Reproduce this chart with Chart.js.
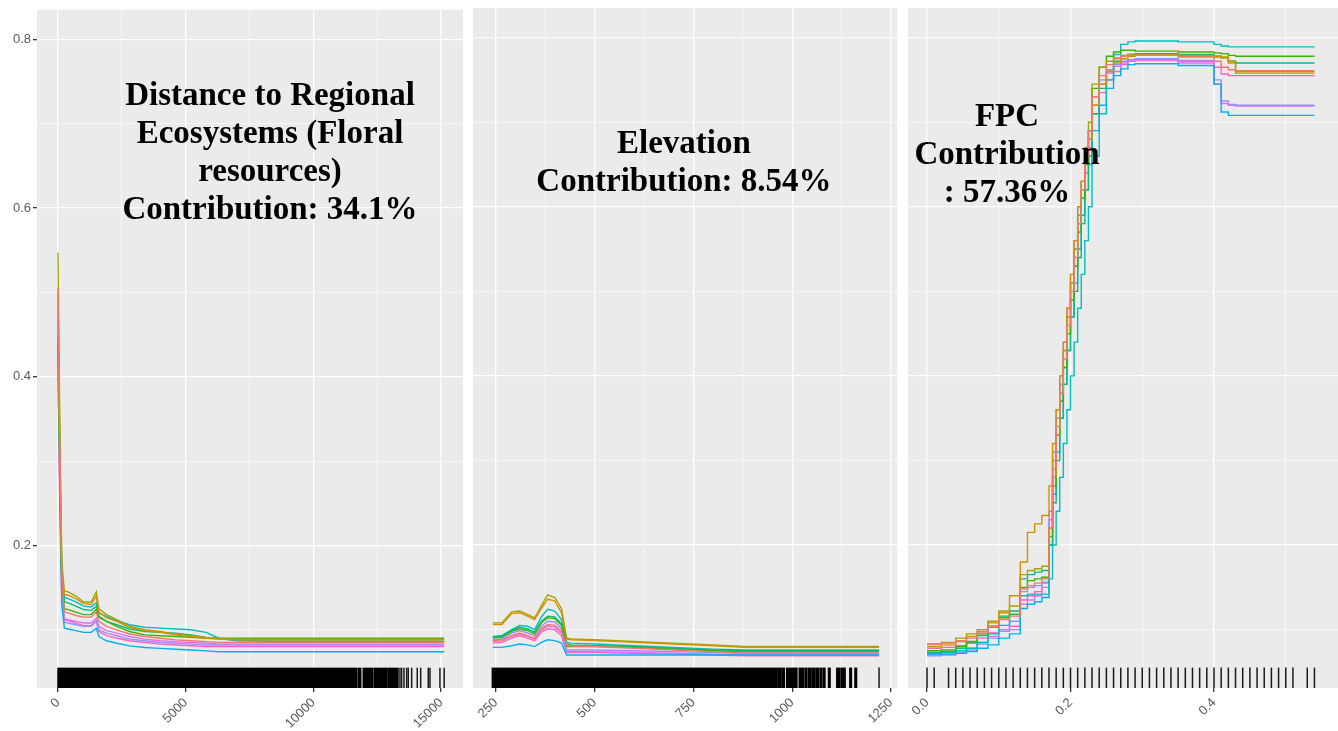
<!DOCTYPE html>
<html>
<head>
<meta charset="utf-8">
<script src="https://cdn.jsdelivr.net/npm/chart.js@4.4.1/dist/chart.umd.min.js"></script>
<style>
  html, body { margin: 0; padding: 0; background: #fff; overflow: hidden; }
  body { width: 1338px; height: 731px; position: relative; }
  .panel { position: absolute; top: 0; height: 731px; }
</style>
</head>
<body>
<div class="panel" style="left:0;width:465px"><canvas id="plot1"></canvas></div>
<div class="panel" style="left:465px;width:440px"><canvas id="plot2"></canvas></div>
<div class="panel" style="left:905px;width:436px"><canvas id="plot3"></canvas></div>
<script>
// one colour per model replicate (ggplot hue palette)
const replicateColors = ['#F8766D', '#D89000', '#A3A500', '#39B600', '#00BF7D', '#00BFC4', '#00B0F6', '#9590FF', '#E76BF3', '#FF62BC'];

// shared y axis
const yGrid = [0.1, 0.2, 0.3, 0.4, 0.5, 0.6, 0.7, 0.8];
const yLabels = [0.2, 0.4, 0.6, 0.8];

// panel 1: distance to regional ecosystems
const distX = [0, 50, 100, 150, 250, 400, 700, 1000, 1300, 1500, 1600, 1900, 2300, 2800, 3400, 4000, 4600, 5200, 5800, 6300, 7000, 9000, 12000, 15120];
const distCurves = [
  [0.505, 0.36, 0.25, 0.16, 0.121, 0.120, 0.117, 0.115, 0.115, 0.121, 0.110, 0.104, 0.100, 0.095, 0.092, 0.090, 0.088, 0.087, 0.086, 0.085, 0.085, 0.085, 0.085, 0.085],
  [0.50, 0.37, 0.26, 0.17, 0.142, 0.141, 0.137, 0.131, 0.130, 0.140, 0.121, 0.114, 0.110, 0.103, 0.099, 0.097, 0.094, 0.092, 0.090, 0.089, 0.088, 0.088, 0.088, 0.088],
  [0.547, 0.40, 0.28, 0.18, 0.146, 0.145, 0.140, 0.133, 0.133, 0.145, 0.125, 0.118, 0.112, 0.104, 0.100, 0.098, 0.095, 0.093, 0.091, 0.090, 0.089, 0.089, 0.089, 0.089],
  [0.44, 0.33, 0.23, 0.155, 0.125, 0.124, 0.121, 0.118, 0.118, 0.124, 0.115, 0.110, 0.104, 0.098, 0.094, 0.093, 0.092, 0.091, 0.090, 0.090, 0.090, 0.090, 0.090, 0.090],
  [0.45, 0.34, 0.24, 0.16, 0.133, 0.132, 0.128, 0.124, 0.123, 0.128, 0.116, 0.110, 0.106, 0.101, 0.098, 0.097, 0.096, 0.094, 0.091, 0.089, 0.088, 0.088, 0.088, 0.088],
  [0.47, 0.35, 0.25, 0.165, 0.138, 0.137, 0.133, 0.128, 0.127, 0.132, 0.120, 0.116, 0.111, 0.106, 0.103, 0.102, 0.101, 0.100, 0.097, 0.090, 0.087, 0.086, 0.086, 0.086],
  [0.48, 0.34, 0.22, 0.13, 0.102, 0.101, 0.099, 0.097, 0.097, 0.102, 0.092, 0.087, 0.084, 0.081, 0.079, 0.078, 0.077, 0.076, 0.075, 0.074, 0.074, 0.074, 0.074, 0.074],
  [0.43, 0.31, 0.21, 0.14, 0.109, 0.108, 0.106, 0.104, 0.104, 0.110, 0.100, 0.096, 0.093, 0.089, 0.087, 0.085, 0.084, 0.083, 0.082, 0.082, 0.082, 0.082, 0.082, 0.082],
  [0.42, 0.30, 0.22, 0.15, 0.113, 0.112, 0.110, 0.108, 0.108, 0.114, 0.104, 0.099, 0.096, 0.092, 0.089, 0.087, 0.086, 0.085, 0.084, 0.083, 0.083, 0.083, 0.083, 0.083],
  [0.40, 0.29, 0.20, 0.135, 0.112, 0.111, 0.108, 0.105, 0.105, 0.111, 0.098, 0.093, 0.090, 0.087, 0.085, 0.083, 0.082, 0.081, 0.080, 0.080, 0.080, 0.080, 0.080, 0.080]
];
const distGrid = [0, 2500, 5000, 7500, 10000, 12500, 15000];
const distLabels = [0, 5000, 10000, 15000];
const distRugBands = [[0, 11694], [11757, 11851], [11953, 12321], [12383, 12868], [12920, 13311]];
const distRugTicks = [13389, 13455, 13546, 13651, 13714, 13847, 14066, 14200, 14497, 14564, 14955, 15120];
const distText = ['Distance to Regional', 'Ecosystems (Floral', 'resources)', 'Contribution: 34.1%'];

// panel 2: elevation
const elevX = [242, 265, 290, 310, 330, 348, 365, 381, 399, 416, 429, 440, 500, 600, 700, 800, 880, 1000, 1220];
const elevCurves = [
  [0.086, 0.087, 0.093, 0.096, 0.093, 0.090, 0.101, 0.106, 0.105, 0.098, 0.082, 0.081, 0.080, 0.078, 0.076, 0.074, 0.072, 0.072, 0.072],
  [0.106, 0.106, 0.119, 0.120, 0.116, 0.112, 0.125, 0.136, 0.134, 0.120, 0.089, 0.088, 0.087, 0.085, 0.083, 0.081, 0.079, 0.079, 0.079],
  [0.108, 0.108, 0.121, 0.122, 0.118, 0.114, 0.128, 0.141, 0.138, 0.125, 0.090, 0.089, 0.088, 0.086, 0.084, 0.082, 0.080, 0.080, 0.080],
  [0.090, 0.091, 0.098, 0.101, 0.099, 0.095, 0.108, 0.114, 0.113, 0.105, 0.080, 0.080, 0.080, 0.079, 0.077, 0.075, 0.074, 0.074, 0.074],
  [0.091, 0.092, 0.099, 0.103, 0.101, 0.097, 0.110, 0.116, 0.115, 0.107, 0.083, 0.082, 0.081, 0.080, 0.078, 0.076, 0.075, 0.075, 0.075],
  [0.092, 0.093, 0.100, 0.105, 0.104, 0.100, 0.115, 0.124, 0.122, 0.112, 0.085, 0.084, 0.083, 0.081, 0.079, 0.077, 0.076, 0.076, 0.076],
  [0.079, 0.079, 0.081, 0.083, 0.082, 0.080, 0.085, 0.088, 0.087, 0.084, 0.070, 0.070, 0.070, 0.070, 0.070, 0.070, 0.070, 0.070, 0.070],
  [0.088, 0.089, 0.096, 0.099, 0.096, 0.093, 0.104, 0.110, 0.109, 0.101, 0.076, 0.076, 0.076, 0.075, 0.074, 0.073, 0.072, 0.072, 0.072],
  [0.087, 0.088, 0.092, 0.095, 0.092, 0.089, 0.099, 0.104, 0.103, 0.096, 0.074, 0.074, 0.074, 0.073, 0.072, 0.071, 0.070, 0.070, 0.070],
  [0.084, 0.085, 0.090, 0.093, 0.090, 0.087, 0.097, 0.101, 0.100, 0.093, 0.073, 0.073, 0.073, 0.072, 0.071, 0.070, 0.069, 0.069, 0.069]
];
const elevGrid = [250, 375, 500, 625, 750, 875, 1000, 1125, 1250];
const elevLabels = [250, 500, 750, 1000, 1250];
const elevRugBands = [[241, 953], [956, 961], [964, 970], [974, 980], [986, 1012], [1018, 1029], [1033, 1037], [1041, 1046], [1050, 1058], [1062, 1067], [1071, 1075], [1079, 1083], [1092, 1096], [1113, 1121], [1125, 1134], [1146, 1150], [1159, 1163]];
const elevRugTicks = [1220];
const elevText = ['Elevation', 'Contribution: 8.54%'];

// panel 3: FPC
const fpcX = [0, 0.02, 0.04, 0.055, 0.07, 0.085, 0.10, 0.115, 0.13, 0.14, 0.15, 0.16, 0.17, 0.175, 0.18, 0.185, 0.19, 0.195, 0.20, 0.205, 0.21, 0.215, 0.22, 0.225, 0.23, 0.24, 0.25, 0.26, 0.27, 0.28, 0.29, 0.30, 0.35, 0.40, 0.41, 0.42, 0.43, 0.44, 0.54];
const fpcCurves = [
  [0.083, 0.083, 0.084, 0.087, 0.090, 0.096, 0.104, 0.112, 0.116, 0.148, 0.152, 0.155, 0.160, 0.22, 0.29, 0.34, 0.38, 0.42, 0.46, 0.50, 0.54, 0.58, 0.62, 0.66, 0.69, 0.73, 0.755, 0.768, 0.775, 0.778, 0.779, 0.779, 0.779, 0.777, 0.772, 0.765, 0.762, 0.761, 0.761],
  [0.080, 0.080, 0.082, 0.086, 0.092, 0.098, 0.108, 0.120, 0.140, 0.180, 0.215, 0.225, 0.235, 0.27, 0.32, 0.36, 0.40, 0.44, 0.48, 0.52, 0.56, 0.60, 0.63, 0.66, 0.68, 0.72, 0.745, 0.76, 0.77, 0.775, 0.778, 0.779, 0.779, 0.778, 0.777, 0.776, 0.770, 0.758, 0.758],
  [0.083, 0.083, 0.085, 0.090, 0.095, 0.100, 0.110, 0.122, 0.128, 0.165, 0.170, 0.172, 0.175, 0.22, 0.28, 0.33, 0.38, 0.43, 0.47, 0.51, 0.55, 0.59, 0.63, 0.67, 0.70, 0.745, 0.765, 0.772, 0.776, 0.779, 0.780, 0.780, 0.780, 0.779, 0.778, 0.777, 0.772, 0.760, 0.760],
  [0.075, 0.075, 0.076, 0.080, 0.086, 0.095, 0.103, 0.114, 0.118, 0.150, 0.158, 0.160, 0.162, 0.21, 0.27, 0.33, 0.37, 0.41, 0.45, 0.49, 0.53, 0.57, 0.61, 0.65, 0.69, 0.74, 0.765, 0.778, 0.783, 0.785, 0.785, 0.784, 0.784, 0.783, 0.782, 0.781, 0.779, 0.778, 0.778],
  [0.073, 0.073, 0.074, 0.078, 0.084, 0.093, 0.104, 0.116, 0.122, 0.160, 0.165, 0.168, 0.170, 0.20, 0.25, 0.30, 0.35, 0.39, 0.43, 0.47, 0.50, 0.54, 0.58, 0.62, 0.66, 0.71, 0.74, 0.76, 0.772, 0.778, 0.780, 0.781, 0.781, 0.780, 0.778, 0.776, 0.772, 0.770, 0.770],
  [0.072, 0.072, 0.073, 0.075, 0.078, 0.085, 0.095, 0.105, 0.118, 0.140, 0.142, 0.142, 0.142, 0.160, 0.20, 0.24, 0.28, 0.32, 0.36, 0.40, 0.44, 0.48, 0.52, 0.56, 0.60, 0.66, 0.71, 0.75, 0.78, 0.792, 0.795, 0.796, 0.796, 0.795, 0.792, 0.790, 0.789, 0.789, 0.789],
  [0.071, 0.071, 0.071, 0.072, 0.074, 0.078, 0.082, 0.090, 0.095, 0.125, 0.130, 0.133, 0.138, 0.20, 0.26, 0.31, 0.35, 0.39, 0.43, 0.47, 0.51, 0.55, 0.59, 0.62, 0.65, 0.69, 0.72, 0.74, 0.755, 0.763, 0.768, 0.769, 0.769, 0.767, 0.745, 0.712, 0.708, 0.708, 0.708],
  [0.069, 0.069, 0.070, 0.072, 0.076, 0.083, 0.090, 0.100, 0.110, 0.145, 0.150, 0.152, 0.156, 0.24, 0.31, 0.36, 0.40, 0.44, 0.48, 0.52, 0.56, 0.60, 0.63, 0.66, 0.69, 0.73, 0.75, 0.762, 0.768, 0.772, 0.774, 0.775, 0.775, 0.772, 0.750, 0.725, 0.721, 0.720, 0.720],
  [0.070, 0.070, 0.071, 0.073, 0.078, 0.085, 0.092, 0.098, 0.100, 0.130, 0.135, 0.140, 0.150, 0.23, 0.30, 0.35, 0.39, 0.43, 0.47, 0.51, 0.55, 0.58, 0.62, 0.65, 0.68, 0.72, 0.745, 0.758, 0.766, 0.770, 0.772, 0.773, 0.773, 0.770, 0.745, 0.722, 0.720, 0.719, 0.719],
  [0.078, 0.078, 0.079, 0.081, 0.085, 0.090, 0.096, 0.100, 0.104, 0.135, 0.140, 0.145, 0.155, 0.22, 0.28, 0.33, 0.37, 0.41, 0.45, 0.49, 0.53, 0.57, 0.61, 0.64, 0.67, 0.71, 0.735, 0.75, 0.76, 0.768, 0.772, 0.774, 0.774, 0.773, 0.765, 0.757, 0.755, 0.755, 0.755]
];
const fpcGrid = [0, 0.1, 0.2, 0.3, 0.4, 0.5];
const fpcLabels = [0, 0.2, 0.4];
const fpcRugTicks = [0, 0.01, 0.03, 0.04, 0.05, 0.06, 0.07, 0.08, 0.09, 0.10, 0.11, 0.12, 0.13, 0.14, 0.15, 0.16, 0.17, 0.18, 0.19, 0.20,
  0.21, 0.22, 0.23, 0.24, 0.25, 0.26, 0.27, 0.28, 0.29, 0.30, 0.31, 0.32, 0.33, 0.34, 0.35, 0.36, 0.37, 0.38, 0.39, 0.40,
  0.41, 0.42, 0.43, 0.44, 0.45, 0.46, 0.47, 0.48, 0.49, 0.50, 0.51, 0.53, 0.54];
const fpcText = ['FPC', 'Contribution', ': 57.36%'];

const Y_MIN = 0.031, Y_MAX = 0.835;
const axisFont = {family: '"Liberation Sans", Arial, sans-serif', size: 13};

function hasLabel(v, list) {
    return list.some(m => Math.abs(m - v) < 1e-9);
}

function panelBackground() {
    return {
        id: 'panelBackground',
        beforeDraw(chart) {
            const a = chart.chartArea, ctx = chart.ctx;
            ctx.save();
            ctx.fillStyle = '#EBEBEB';
            ctx.fillRect(a.left, a.top, a.right - a.left, a.bottom - a.top);
            ctx.restore();
        }
    };
}

// rug marks along the bottom of the panel + the bold contribution text
function rugAndText(bands, ticks, text, anchorX, anchorY) {
    return {
        id: 'rugAndText',
        afterDatasetsDraw(chart) {
            const a = chart.chartArea, ctx = chart.ctx, x = chart.scales.x, y = chart.scales.y;
            const len = (a.bottom - a.top) * 0.03;
            ctx.save();
            ctx.fillStyle = '#000';
            bands.forEach(b => {
                const x0 = x.getPixelForValue(b[0]), x1 = x.getPixelForValue(b[1]);
                ctx.fillRect(x0 - 0.75, a.bottom - len, x1 - x0 + 1.5, len);
            });
            ctx.strokeStyle = '#1a1a1a';
            ctx.lineWidth = 1.5;
            ticks.forEach(v => {
                const px = x.getPixelForValue(v);
                ctx.beginPath();
                ctx.moveTo(px, a.bottom - len);
                ctx.lineTo(px, a.bottom);
                ctx.stroke();
            });
            ctx.font = 'bold 33px "Liberation Serif", "Times New Roman", serif';
            ctx.textAlign = 'center';
            ctx.fillStyle = '#000';
            const px = x.getPixelForValue(anchorX), py = y.getPixelForValue(anchorY);
            text.forEach((t, i) => ctx.fillText(t, px, py + i * 38));
            ctx.restore();
        }
    };
}

function xAxis(min, max, grid, labels, fmt) {
    return {
        type: 'linear', min: min, max: max,
        afterBuildTicks: s => { s.ticks = grid.map(v => ({value: v})); },
        afterFit: s => { s.height = 43; },
        border: {display: false},
        grid: {
            color: '#FFFFFF',
            lineWidth: c => hasLabel(c.tick.value, labels) ? 1.3 : 0.6,
            tickColor: c => hasLabel(c.tick.value, labels) ? '#333333' : 'rgba(0,0,0,0)',
            tickLength: 4
        },
        ticks: {
            color: '#5a5a5a', font: axisFont, autoSkip: false,
            minRotation: 45, maxRotation: 45, padding: 3,
            callback: v => hasLabel(v, labels) ? fmt(v) : ''
        }
    };
}

function yAxis(showLabels) {
    return {
        type: 'linear', min: Y_MIN, max: Y_MAX,
        afterBuildTicks: s => { s.ticks = yGrid.map(v => ({value: v})); },
        afterFit: s => { s.width = showLabels ? 37 : 0; },
        border: {display: false},
        grid: {
            color: '#FFFFFF',
            lineWidth: c => hasLabel(c.tick.value, yLabels) ? 1.3 : 0.6,
            tickColor: c => hasLabel(c.tick.value, yLabels) ? '#333333' : 'rgba(0,0,0,0)',
            tickLength: 4,
            drawTicks: showLabels
        },
        ticks: {
            display: showLabels, color: '#5a5a5a', font: axisFont, padding: 2,
            callback: v => hasLabel(v, yLabels) ? v.toFixed(1) : ''
        }
    };
}

function makeDatasets(xs, curves, stepped) {
    return curves.map((ys, k) => ({
        data: xs.map((xv, i) => ({x: xv, y: ys[i]})),
        borderColor: replicateColors[k],
        borderWidth: 1.4,
        pointRadius: 0,
        fill: false,
        tension: 0,
        stepped: stepped
    }));
}

function plotPanel(canvasId, datasets, xScale, showY, padding, plugins) {
    new Chart(document.getElementById(canvasId).getContext('2d'), {
        type: 'line',
        data: {datasets: datasets},
        options: {
            responsive: true,
            maintainAspectRatio: false,
            animation: false,
            layout: {padding: padding},
            plugins: {legend: {display: false}, tooltip: {enabled: false}},
            scales: {x: xScale, y: yAxis(showY)}
        },
        plugins: plugins
    });
}

plotPanel('plot1', makeDatasets(distX, distCurves, false),
    xAxis(-822, 15857, distGrid, distLabels, v => String(v)), true,
    {top: 8, right: 2, left: 0, bottom: 0},
    [panelBackground(), rugAndText(distRugBands, distRugTicks, distText, 8300, 0.7224)]);

plotPanel('plot2', makeDatasets(elevX, elevCurves, false),
    xAxis(192, 1266, elevGrid, elevLabels, v => String(v)), false,
    {top: 8, right: 4, left: 8, bottom: 0},
    [panelBackground(), rugAndText(elevRugBands, elevRugTicks, elevText, 726, 0.6633)]);

plotPanel('plot3', makeDatasets(fpcX, fpcCurves, 'after'),
    xAxis(-0.0265, 0.577, fpcGrid, fpcLabels, v => v.toFixed(1)), false,
    {top: 8, right: 0, left: 3, bottom: 0},
    [panelBackground(), rugAndText([], fpcRugTicks, fpcText, 0.1115, 0.6952)]);
</script>
</body>
</html>
